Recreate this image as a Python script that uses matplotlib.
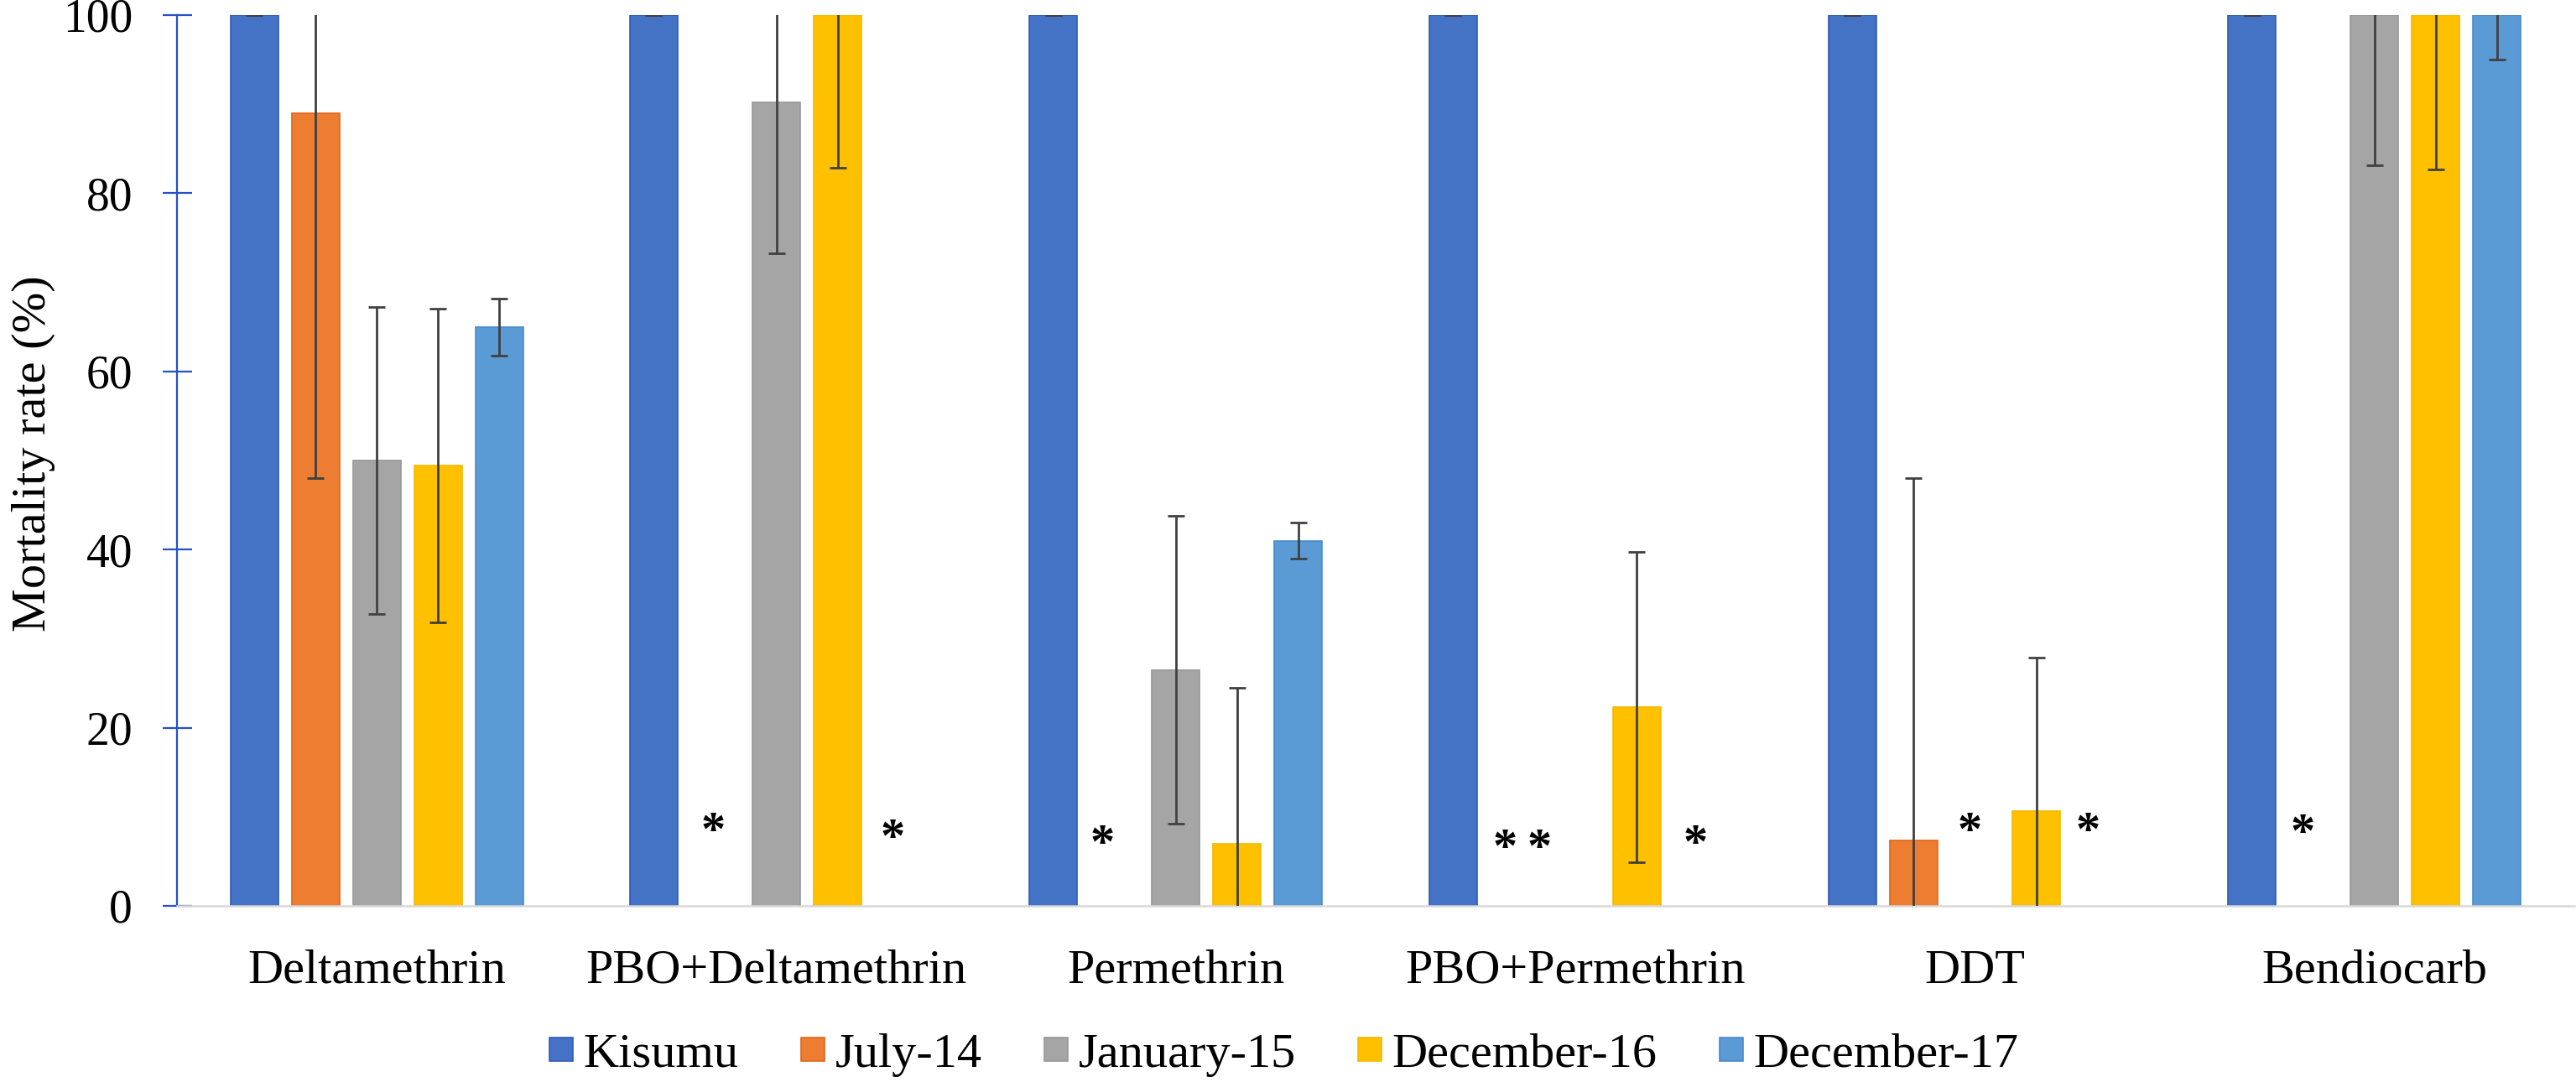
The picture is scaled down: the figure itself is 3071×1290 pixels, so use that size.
import numpy as np
import matplotlib
matplotlib.use("Agg")
import matplotlib.pyplot as plt
from matplotlib.patches import Patch

# ---------------- data ----------------
categories = ["Deltamethrin", "PBO+Deltamethrin", "Permethrin",
              "PBO+Permethrin", "DDT", "Bendiocarb"]
series = ["Kisumu", "July-14", "January-15", "December-16", "December-17"]
nan = np.nan

kisumu = [100, 100, 100, 100, 100, 100]
july14 = [89.0, nan, nan, nan, 7.3, nan]
jan15 = [50.0, 90.2, 26.5, nan, nan, 100]
dec16 = [49.4, 100, 7.0, 22.3, 10.6, 100]
dec17 = [65.0, nan, 41.0, nan, nan, 100]

kisumu_err = [0, 0, 0, 0, 0, 0]
july14_err = [41.0, nan, nan, nan, 40.7, nan]
jan15_err = [17.2, 16.9, 17.3, nan, nan, 16.9]
dec16_err = [17.6, 17.1, 17.5, 17.4, 17.3, 17.3]
dec17_err = [3.2, nan, 2.0, nan, nan, 5.0]

values = [kisumu, july14, jan15, dec16, dec17]
errors = [kisumu_err, july14_err, jan15_err, dec16_err, dec17_err]

# asterisks (missing data markers): height of centre and small x nudge, in order of missing slots
ast_height = [9.6, 8.9, 8.2, 7.7, 7.7, 8.2, 9.6, 9.6, 9.4]
ast_nudge = [-0.005, -0.016, -0.03, -0.023, -0.09, -0.007, -0.014, -0.023, -0.027]

yticks = [0, 20, 40, 60, 80, 100]

# ---------------- style ----------------
colors = ["#4472C4", "#ED7D31", "#A5A5A5", "#FFC000", "#5B9BD5"]
edges = ["#2F5CB8", "#E0661A", "#979797", "#F5B800", "#4A8ACB"]
axis_blue = "#2350CC"

plt.rcParams["font.family"] = ["Liberation Serif", "DejaVu Serif"]

W, H = 3071, 1290
fig = plt.figure(figsize=(W / 100, H / 100), dpi=100)
left, right, bottom, top = 211, 3069, 1080, 18
ax = fig.add_axes([left / W, 1 - bottom / H, (right - left) / W, (bottom - top) / H])

x = np.arange(len(categories))
pitch = 0.1533
width = 0.12

for i, (vals, errs) in enumerate(zip(values, errors)):
    v = np.array(vals, dtype=float)
    e = np.array(errs, dtype=float)
    xs = x + (i - 2) * pitch
    m = ~np.isnan(v)
    ax.bar(xs[m], v[m], width, color=colors[i], edgecolor=edges[i],
           linewidth=1.2, zorder=2)
    ax.errorbar(xs[m], v[m], yerr=e[m], fmt="none", ecolor="#404040",
                elinewidth=2.0, capsize=7.5, capthick=2.0, zorder=3)

# asterisks for missing values
k = 0
for g in range(len(categories)):
    for i, vals in enumerate(values):
        if np.isnan(vals[g]):
            xp = x[g] + (i - 2) * pitch + ast_nudge[k]
            ax.annotate("*", (xp, ast_height[k]), xytext=(0, -21),
                        textcoords="offset points", ha="center",
                        va="baseline", fontsize=42, fontweight="bold",
                        color="black", zorder=4)
            k += 1

ax.set_xlim(-0.5, len(categories) - 0.5)
ax.set_ylim(0, 100)
ax.set_yticks(yticks)
ax.set_yticklabels([str(t) for t in yticks])
ax.set_xticks(x)
ax.set_xticklabels(categories)

for s in ["top", "right"]:
    ax.spines[s].set_visible(False)
ax.spines["left"].set_color(axis_blue)
ax.spines["left"].set_linewidth(1.6)
ax.spines["bottom"].set_color("#D9D9D9")
ax.spines["bottom"].set_linewidth(1.8)

ax.tick_params(axis="y", direction="inout", length=25.2, width=1.6,
               color=axis_blue, labelsize=40, pad=25.5)
ax.tick_params(axis="x", length=0, labelsize=42, pad=37.4)

fig.text(40 / W, 1 - 541 / H, "Mortality rate (%)", rotation=90,
         ha="center", va="center", fontsize=42)

handles = [Patch(facecolor=c, edgecolor=e, linewidth=1.2) for c, e in zip(colors, edges)]
fig.legend(handles, series, loc="center", bbox_to_anchor=(0.4985, 1 - 1258 / H),
           ncol=5, frameon=False, fontsize=42, handlelength=0.48,
           handleheight=0.362, handletextpad=0.22, columnspacing=1.27,
           borderpad=0, borderaxespad=0)

fig.savefig("out.png", dpi=100)
